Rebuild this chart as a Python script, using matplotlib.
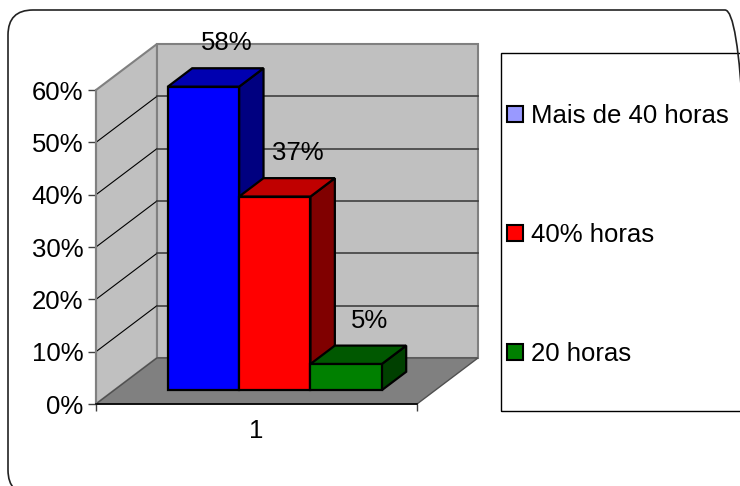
import matplotlib.pyplot as plt
from matplotlib.patches import Polygon, Rectangle, FancyBboxPatch, Patch
from matplotlib.transforms import IdentityTransform

plt.rcParams['font.family'] = ['Liberation Sans', 'DejaVu Sans']

# data
series = ['Mais de 40 horas', '40% horas', '20 horas']
values = [0.58, 0.37, 0.05]
value_labels = ['58%', '37%', '5%']
category = '1'
yticks = [0.0, 0.1, 0.2, 0.3, 0.4, 0.5, 0.6]
ytick_labels = ['0%', '10%', '20%', '30%', '40%', '50%', '60%']

front_colors = ['#0000ff', '#ff0000', '#008000']
top_colors = ['#0000b0', '#c00000', '#005800']
side_colors = ['#000080', '#800000', '#004000']
legend_colors = ['#9999ff', '#ff0000', '#008000']

FS = 18.5
W, H = 740, 486
fig = plt.figure(figsize=(W / 100, H / 100), dpi=100)

# pixel layout of the front floor corner and scale
X0, Y0 = 96, 404
SX, SY = 321, 523.3
DX, DY = 0.19, 0.088          # depth offset of back wall (data units)
ymax = yticks[-1]
ax = fig.add_axes([X0 / W, (H - Y0) / H, (1 + DX) * SX / W, (ymax + DY) * SY / H])
ax.set_xlim(0, 1 + DX)
ax.set_ylim(0, ymax + DY)
ax.patch.set_visible(False)

def poly(pts, fc, ec, lw=1.0, z=1):
    ax.add_patch(Polygon(pts, closed=True, facecolor=fc, edgecolor=ec,
                         linewidth=lw, zorder=z, clip_on=False, joinstyle='miter'))

# walls and floor
poly([(0, 0), (DX, DY), (DX, ymax + DY), (0, ymax)], '#c0c0c0', '#808080', 1.5)
poly([(DX, DY), (1 + DX, DY), (1 + DX, ymax + DY), (DX, ymax + DY)], '#c0c0c0', '#808080', 1.5)
poly([(0, 0), (1, 0), (1 + DX, DY), (DX, DY)], '#808080', '#505050', 1.0)

for v in yticks[1:-1]:
    ax.plot([0, DX], [v, v + DY], color='black', lw=0.8, zorder=2, clip_on=False)
    ax.plot([DX, 1 + DX], [v + DY, v + DY], color='#404040', lw=1.2, zorder=2, clip_on=False)

# 3d bars
d0, d1 = 0.3, 0.7
n = len(values)
bw = (2 / 3) / n
start = 0.5 - bw * n / 2
for i, v in enumerate(values):
    x = start + i * bw
    fx0, fx1 = x + d0 * DX, x + bw + d0 * DX
    bx0, bx1 = x + d1 * DX, x + bw + d1 * DX
    fy, by = d0 * DY, d1 * DY
    z = 3 + i
    poly([(fx1, fy), (bx1, by), (bx1, v + by), (fx1, v + fy)], side_colors[i], 'black', 1.6, z)
    poly([(fx0, v + fy), (fx1, v + fy), (bx1, v + by), (bx0, v + by)], top_colors[i], 'black', 1.6, z)
    poly([(fx0, fy), (fx1, fy), (fx1, v + fy), (fx0, v + fy)], front_colors[i], 'black', 1.6, z)
    dl = 0.7
    ax.annotate(value_labels[i], (x + bw / 2 + dl * DX, v + dl * DY), xytext=(-1, 18),
                textcoords='offset points', ha='center', va='center', fontsize=FS,
                zorder=10, annotation_clip=False)

# axes
for s in ['top', 'right']:
    ax.spines[s].set_visible(False)
ax.spines['left'].set_bounds(0, ymax)
ax.spines['left'].set_color('#808080')
ax.spines['left'].set_linewidth(1.5)
ax.spines['bottom'].set_bounds(0, 1)
ax.spines['bottom'].set_color('black')
ax.spines['bottom'].set_linewidth(1.2)
ax.spines['left'].set_zorder(2)

ax.set_yticks(yticks, ytick_labels)
ax.tick_params(axis='y', length=6, width=1, color='#404040', pad=3, labelsize=FS)
ax.set_xticks([0, 1], ['', ''])
ax.set_xticks([0.5], [category], minor=True)
ax.tick_params(axis='x', which='major', length=5, width=1, color='#404040')
ax.tick_params(axis='x', which='minor', length=0, pad=11, labelsize=FS)

# legend
handles = [Patch(facecolor=c, edgecolor='black', linewidth=1.5) for c in legend_colors]
fig.legend(handles, series, loc='center left', bbox_to_anchor=(507 / W, 1 - 235 / H),
           frameon=False, fontsize=FS, handlelength=0.62, handleheight=0.62,
           handletextpad=0.3, labelspacing=3.7, borderpad=0, borderaxespad=0)
fig.add_artist(Rectangle((501, H - 411), 260, 358, transform=IdentityTransform(),
                         fill=False, edgecolor='black', linewidth=1))

# outer rounded chart border
fig.add_artist(FancyBboxPatch((8, -9), 742, 485, boxstyle='round,pad=0,rounding_size=25',
                              transform=IdentityTransform(), fill=False,
                              edgecolor='#222222', linewidth=1.2))

fig.savefig('out.png', dpi=100)
